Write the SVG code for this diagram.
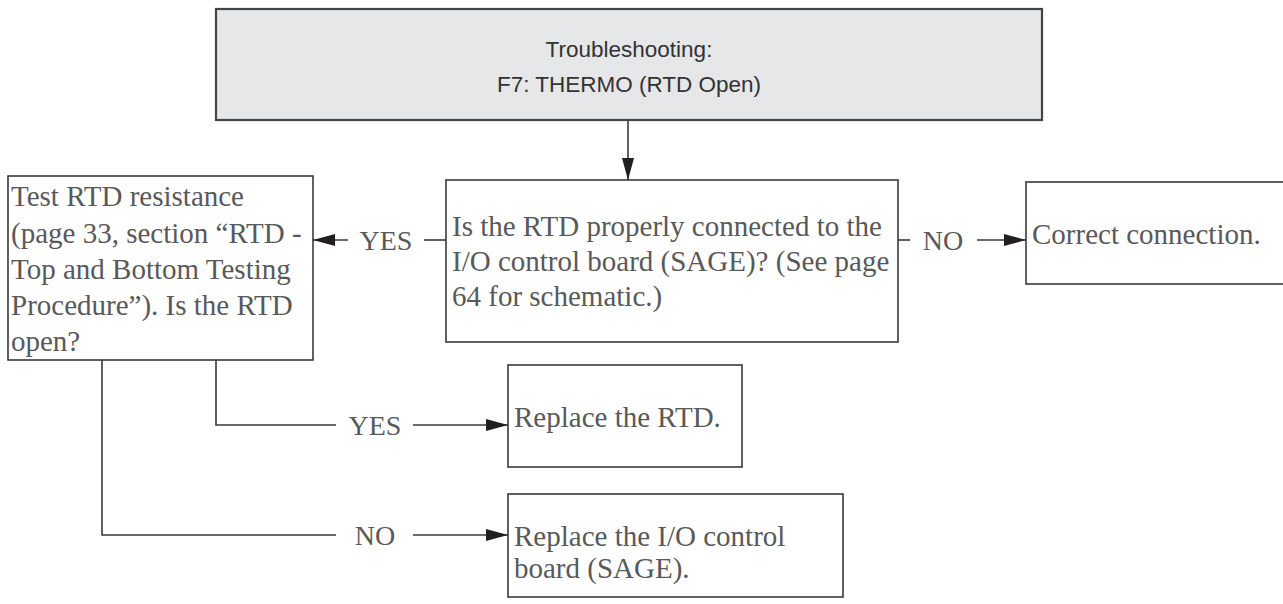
<svg xmlns="http://www.w3.org/2000/svg" width="1283" height="604" viewBox="0 0 1283 604">
  <defs>
    <marker id="ah" viewBox="0 0 22 12" refX="22" refY="6" markerWidth="22" markerHeight="12" markerUnits="userSpaceOnUse" orient="auto">
      <path d="M0,0 L22,6 L0,12 Z" fill="#231f20"/>
    </marker>
    <style>
      .box { fill: #ffffff; stroke: #3a3a3a; stroke-width: 1.6; }
      .hdr { fill: #e6e7e8; stroke: #444444; stroke-width: 2.2; }
      .t { font-family: "Liberation Serif", "Times New Roman", serif; font-size: 29px; fill: #595959; }
      .lbl { font-family: "Liberation Serif", "Times New Roman", serif; font-size: 28px; fill: #595959; text-anchor: middle; }
      .h { font-family: "Liberation Sans", Arial, sans-serif; font-size: 22.5px; fill: #333333; text-anchor: middle; }
      .c { fill: none; stroke: #3a3a3a; stroke-width: 1.6; }
      .ca { fill: none; stroke: #3a3a3a; stroke-width: 1.6; marker-end: url(#ah); }
    </style>
  </defs>

  <g id="header">
    <rect class="hdr" x="216" y="9" width="826" height="111"/>
    <text class="h" x="629" y="57">Troubleshooting:</text>
    <text class="h" x="629" y="92">F7: THERMO (RTD Open)</text>
  </g>

  <g id="q-connected">
    <rect class="box" x="446" y="180" width="452" height="162"/>
    <text class="t" x="452" y="236">Is the RTD properly connected to the</text>
    <text class="t" x="452" y="271">I/O control board (SAGE)? (See page</text>
    <text class="t" x="452" y="306">64 for schematic.)</text>
  </g>

  <g id="q-resistance">
    <rect class="box" x="8" y="176" width="305" height="184"/>
    <text class="t" x="11" y="206">Test RTD resistance</text>
    <text class="t" x="11" y="243">(page 33, section “RTD -</text>
    <text class="t" x="11" y="279">Top and Bottom Testing</text>
    <text class="t" x="11" y="315">Procedure”). Is the RTD</text>
    <text class="t" x="11" y="351">open?</text>
  </g>

  <g id="a-correct">
    <rect class="box" x="1026" y="182" width="270" height="102"/>
    <text class="t" x="1032" y="244">Correct connection.</text>
  </g>

  <g id="a-replace-rtd">
    <rect class="box" x="508" y="365" width="234" height="102"/>
    <text class="t" x="514" y="427">Replace the RTD.</text>
  </g>

  <g id="a-replace-board">
    <rect class="box" x="508" y="494" width="335" height="103"/>
    <text class="t" x="514" y="546">Replace the I/O control</text>
    <text class="t" x="514" y="578">board (SAGE).</text>
  </g>

  <g id="connectors">
    <line class="ca" x1="628" y1="120" x2="628" y2="180"/>

    <line class="c" x1="446" y1="240" x2="424" y2="240"/>
    <text class="lbl" x="386" y="250">YES</text>
    <line class="ca" x1="348" y1="240" x2="313" y2="240"/>

    <line class="c" x1="898" y1="240" x2="910" y2="240"/>
    <text class="lbl" x="943" y="250">NO</text>
    <line class="ca" x1="977" y1="240" x2="1026" y2="240"/>

    <polyline class="c" points="216,360 216,425 336,425"/>
    <text class="lbl" x="375" y="435">YES</text>
    <line class="ca" x1="413" y1="425" x2="508" y2="425"/>

    <polyline class="c" points="102,360 102,535 336,535"/>
    <text class="lbl" x="375" y="545">NO</text>
    <line class="ca" x1="413" y1="535" x2="508" y2="535"/>
  </g>
</svg>
